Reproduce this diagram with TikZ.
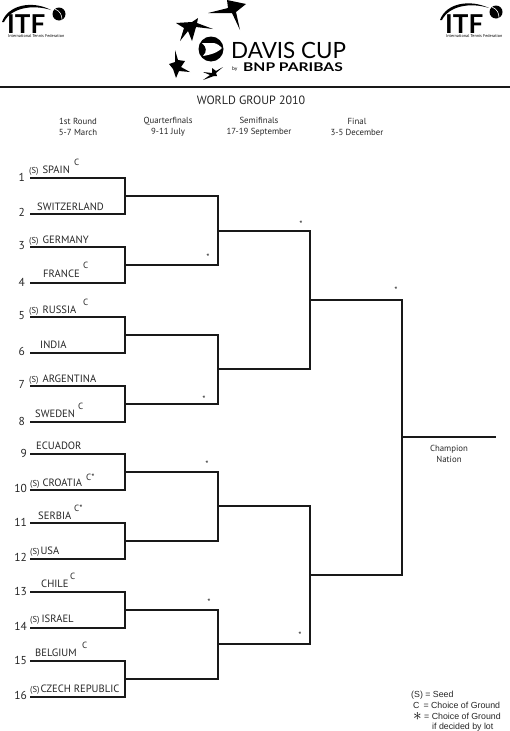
\documentclass[tikz,border=0pt]{standalone}
\usepackage{fontspec}
\setmainfont{PT Sans}
\newfontfamily\legendfont{Liberation Sans}
\newfontfamily\logofont{Lato}
\newfontfamily\bnpfont[FakeStretch=1.3]{Lato}
\newcommand{\seedmark}{{\fontsize{8.6}{8.6}\selectfont (S)}}
\usetikzlibrary{positioning, calc}

\begin{document}
\begin{tikzpicture}[
    x=1pt, y=-1pt,
    line/.style={line width=2.4pt, line cap=rect, black!90},
    team/.style={anchor=base west, inner sep=0pt, font=\fontsize{10.6}{10.6}\selectfont, black!85},
    seed/.style={anchor=base east, inner sep=0pt, font=\fontsize{11.5}{11.5}\selectfont, black!85},
    ground/.style={anchor=base west, inner sep=0pt, font=\fontsize{9}{9}\selectfont, black!85},
    round/.style={align=center, inner sep=0pt, font=\fontsize{8.8}{11}\selectfont, black!85},
    lot/.style={inner sep=0pt, font=\fontsize{9}{9}\selectfont, black!85},
    legend/.style={anchor=base west, inner sep=0pt, font=\legendfont\fontsize{8.8}{8.8}\selectfont, black!85},
    itf/.style={anchor=base west, inner sep=0pt, text depth=0pt, font=\fontsize{26}{26}\selectfont\bfseries},
    itfsub/.style={anchor=base west, inner sep=0pt, font=\fontsize{4.2}{4.2}\selectfont}
]
    \useasboundingbox (0,0) rectangle (509,731);

    % Logos
    \node[itf] (itfleft) at (7,33) {\logofont ITF};
    \node[itfsub] (itfleftsub) at (8,37.5) {International Tennis Federation};
    \fill (2,22) .. controls (8,5) and (32,0) .. (51,10) .. controls (32,4) and (11,8) .. (4,22) -- cycle;
    \fill (59,14) circle (6.5);
    \draw[white, line width=0.6pt] (55,9) .. controls (60,11) and (62,15) .. (62,20);
    \node[itf] (itfright) at (445,33) {\logofont ITF};
    \node[itfsub] (itfrightsub) at (446,37.5) {International Tennis Federation};
    \fill (440,20) .. controls (446,3) and (470,-1) .. (489,8) .. controls (470,2) and (449,6) .. (442,20) -- cycle;
    \fill (496,12) circle (6.5);
    \draw[white, line width=0.6pt] (492,7) .. controls (497,9) and (499,13) .. (499,18);

    % Davis Cup stars
    \fill (208,13) -- (228,8) -- (227,0) -- (246,4) -- (236,12) -- (240,30) -- (232,13) -- cycle;
    \fill (176,23) -- (192,22) -- (198,18) -- (197,23) -- (213,29) -- (196,27) -- (192,41) -- (188,31) -- (180,41) -- (184,28) -- cycle;
    \fill (175,50) -- (178,60) -- (185,61) -- (181,67) -- (190,72) -- (179,71) -- (176,78) -- (173,69) -- (169,64) -- (175,62) -- cycle;
    \fill (223,67) -- (216,71) -- (212,68) -- (212,73) -- (203,72) -- (210,75) -- (203,80) -- (214,76) -- (217,76) -- (216,73) -- cycle;
    \fill (211,49) circle (12.5);
    \fill[white] (202,43) -- (214,43) .. controls (218,44) and (220,46) .. (222,48) .. controls (219,51) and (215,54) .. (203,56) .. controls (207,52) and (207,47) .. cycle;
    \node[anchor=base west, inner sep=0pt, font=\logofont\fontsize{22.4}{22.4}\selectfont] (daviscup) at (231,58) {DAVIS CUP};
    \node[anchor=base west, inner sep=0pt, font=\logofont\fontsize{5}{5}\selectfont] (by) at (232,70) {by};
    \node[anchor=base west, inner sep=0pt, font=\bnpfont\fontsize{12}{12}\selectfont\bfseries] (bnp) at (243,71) {BNP PARIBAS};

    \coordinate (ruleleft) at (0,87);
    \coordinate (ruleright) at (509,87);
    \draw[line] (ruleleft) -- (ruleright);

    % Headers
    \node[inner sep=0pt, font=\fontsize{12}{12}\selectfont, black!85] (title) at (251,100) {WORLD GROUP 2010};
    \node[round] (first) at (78,126.5) {1st Round\\5-7 March};
    \node[round] (quarter) at (168,127) {Quarterfinals\\9-11 July};
    \node[round] (semi) at (259,126.5) {Semifinals\\17-19 September};
    \node[round] (final) at (357,126.5) {Final\\3-5 December};

    % First round
    \coordinate (r1) at (31,178);
    \coordinate (r2) at (31,214);
    \coordinate (r3) at (31,247);
    \coordinate (r4) at (31,283);
    \coordinate (r5) at (31,317);
    \coordinate (r6) at (31,353);
    \coordinate (r7) at (31,386);
    \coordinate (r8) at (31,422);
    \coordinate (r9) at (31,454);
    \coordinate (r10) at (31,490);
    \coordinate (r11) at (31,523);
    \coordinate (r12) at (31,559);
    \coordinate (r13) at (31,592);
    \coordinate (r14) at (31,628);
    \coordinate (r15) at (31,661);
    \coordinate (r16) at (31,697);

    % Quarterfinals
    \coordinate (qf1) at (125,196);
    \coordinate (qf2) at (125,265);
    \coordinate (qf3) at (125,335);
    \coordinate (qf4) at (125,404);
    \coordinate (qf5) at (125,472);
    \coordinate (qf6) at (125,541);
    \coordinate (qf7) at (125,610);
    \coordinate (qf8) at (125,679);

    % Semifinals
    \coordinate (sf1) at (218,231);
    \coordinate (sf2) at (218,369);
    \coordinate (sf3) at (218,506);
    \coordinate (sf4) at (218,644);

    % Final
    \coordinate (fin1) at (310,300);
    \coordinate (fin2) at (310,575);
    \coordinate (champ) at (402,437);
    \coordinate (champend) at (495,437);

    % Bracket
    \draw[line] (r1) -| (qf1);
    \draw[line] (r2) -| (qf1);
    \draw[line] (r3) -| (qf2);
    \draw[line] (r4) -| (qf2);
    \draw[line] (r5) -| (qf3);
    \draw[line] (r6) -| (qf3);
    \draw[line] (r7) -| (qf4);
    \draw[line] (r8) -| (qf4);
    \draw[line] (r9) -| (qf5);
    \draw[line] (r10) -| (qf5);
    \draw[line] (r11) -| (qf6);
    \draw[line] (r12) -| (qf6);
    \draw[line] (r13) -| (qf7);
    \draw[line] (r14) -| (qf7);
    \draw[line] (r15) -| (qf8);
    \draw[line] (r16) -| (qf8);
    \draw[line] (qf1) -| (sf1);
    \draw[line] (qf2) -| (sf1);
    \draw[line] (qf3) -| (sf2);
    \draw[line] (qf4) -| (sf2);
    \draw[line] (qf5) -| (sf3);
    \draw[line] (qf6) -| (sf3);
    \draw[line] (qf7) -| (sf4);
    \draw[line] (qf8) -| (sf4);
    \draw[line] (sf1) -| (fin1);
    \draw[line] (sf2) -| (fin1);
    \draw[line] (sf3) -| (fin2);
    \draw[line] (sf4) -| (fin2);
    \draw[line] (fin1) -| (champ);
    \draw[line] (fin2) -| (champ);
    \draw[line] (champ) -- (champend);

    % Draw numbers
    \node[seed] (n1) at (25,181) {1};
    \node[seed] (n2) at (25,216) {2};
    \node[seed] (n3) at (25,249) {3};
    \node[seed] (n4) at (25,286) {4};
    \node[seed] (n5) at (25,319) {5};
    \node[seed] (n6) at (25,355) {6};
    \node[seed] (n7) at (25,388) {7};
    \node[seed] (n8) at (25,425) {8};
    \node[seed] (n9) at (27,457) {9};
    \node[seed] (n10) at (27,492) {10};
    \node[seed] (n11) at (27,526) {11};
    \node[seed] (n12) at (27,561) {12};
    \node[seed] (n13) at (27,595) {13};
    \node[seed] (n14) at (27,630) {14};
    \node[seed] (n15) at (27,664) {15};
    \node[seed] (n16) at (27,699) {16};

    % Teams
    \node[team] (spain) at (29,173) {\seedmark\hspace{4pt}SPAIN};
    \node[ground] (spainc) at (74,165) {C};
    \node[team] (switzerland) at (37,210) {SWITZERLAND};
    \node[team] (germany) at (29,243) {\seedmark\hspace{4pt}GERMANY};
    \node[team] (france) at (43,277) {FRANCE};
    \node[ground] (francec) at (83,268) {C};
    \node[team] (russia) at (29,313) {\seedmark\hspace{4pt}RUSSIA};
    \node[ground] (russiac) at (83,305) {C};
    \node[team] (india) at (40,348) {INDIA};
    \node[team] (argentina) at (29,382) {\seedmark\hspace{4pt}ARGENTINA};
    \node[team] (sweden) at (35,417) {SWEDEN};
    \node[ground] (swedenc) at (78,409) {C};
    \node[team] (ecuador) at (36,449) {ECUADOR};
    \node[team] (croatia) at (30,486) {\seedmark\hspace{3pt}CROATIA};
    \node[ground] (croatiac) at (86,480) {C*};
    \node[team] (serbia) at (38,519) {SERBIA};
    \node[ground] (serbiac) at (74,511) {C*};
    \node[team] (usa) at (30,554) {\seedmark\hspace{1pt}USA};
    \node[team] (chile) at (41,587) {CHILE};
    \node[ground] (chilec) at (70,579) {C};
    \node[team] (israel) at (30,622) {\seedmark\hspace{2pt}ISRAEL};
    \node[team] (belgium) at (35,656) {BELGIUM};
    \node[ground] (belgiumc) at (82,648) {C};
    \node[team] (czech) at (30,692) {\seedmark\hspace{1pt}CZECH REPUBLIC};

    % Choice of ground by lot
    \node[lot] (lot1) at (208,257) {*};
    \node[lot] (lot2) at (204,399) {*};
    \node[lot] (lot3) at (207,464) {*};
    \node[lot] (lot4) at (209,602) {*};
    \node[lot] (lot5) at (301,224) {*};
    \node[lot] (lot6) at (300,635) {*};
    \node[lot] (lot7) at (396,290) {*};

    % Champion
    \node[round, below=8pt of champ, xshift=47pt] (nation) {Champion\\Nation};

    % Legend
    \node[legend] (seedkey) at (411,697) {(S) = Seed};
    \node[legend] (groundkey) at (413,708) {C\hspace{4pt}= Choice of Ground};
    \node[anchor=base west, inner sep=0pt, text height=6pt, text depth=0pt, font=\fontsize{17}{17}\selectfont] (lotstar) at (413,720) {$\ast$};
    \node[legend] (lotkey) at (424,719) {= Choice of Ground};
    \node[legend] (lotkeytwo) at (432,729) {if decided by lot};
\end{tikzpicture}
\end{document}
